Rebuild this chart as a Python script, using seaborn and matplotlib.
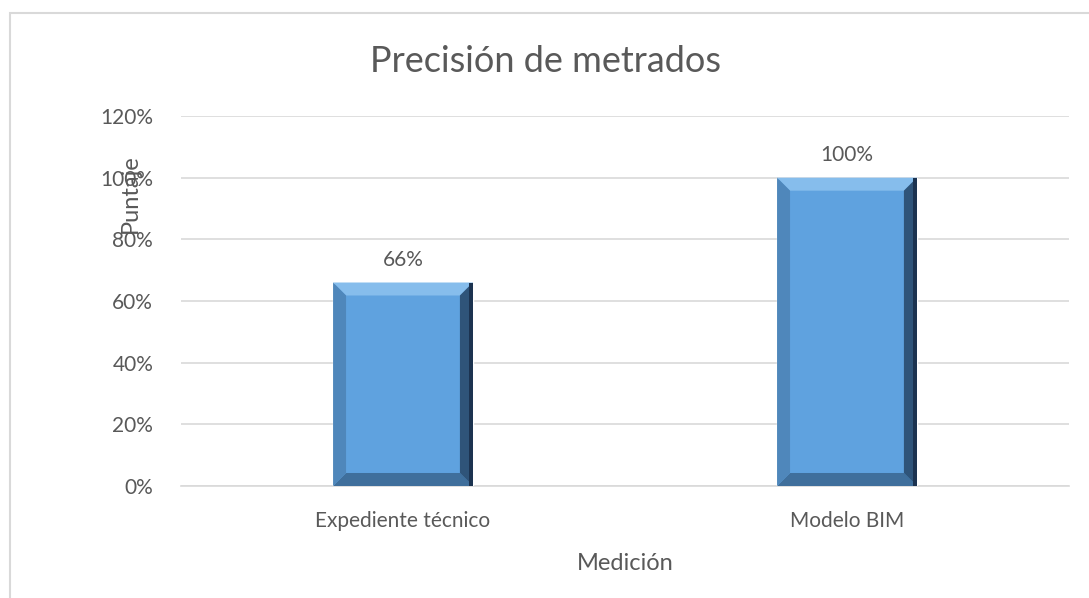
import matplotlib
matplotlib.use("Agg")
import matplotlib.pyplot as plt
import matplotlib.patches as mpatches
from matplotlib.ticker import PercentFormatter
import pandas as pd
import seaborn as sns

# data
categorias = ["Expediente técnico", "Modelo BIM"]
puntaje = [0.66, 1.00]
etiquetas = ["66%", "100%"]

df = pd.DataFrame({"Medición": categorias, "Puntaje": puntaje})

sns.set_style("white")
plt.rcParams['font.family'] = ['Lato', 'DejaVu Sans']
txt = "#595959"

fig = plt.figure(figsize=(10.89, 5.98), dpi=100)
ax = fig.add_axes([0.1662, 0.1873, 0.8154, 0.6187])

# chart frame (Excel-like border, cut off at right/bottom)
fig.patches.append(mpatches.Rectangle((10 / 1089, -0.1), 1.2, 1 - 13 / 598 + 0.1,
                                      transform=fig.transFigure, fill=False,
                                      edgecolor="#d9d9d9", lw=1.5))

sns.barplot(data=df, x="Medición", y="Puntaje", color="#5fa2df", width=0.315,
            saturation=1, ax=ax, zorder=3)

ax.set_ylim(0, 1.2)
ax.set_yticks([0, 0.2, 0.4, 0.6, 0.8, 1.0, 1.2])
ax.yaxis.set_major_formatter(PercentFormatter(1.0, decimals=0))
ax.grid(axis="y", color="#d9d9d9", lw=1.2, zorder=0)
for s in ["top", "right", "left"]:
    ax.spines[s].set_visible(False)
ax.spines["bottom"].set_color("#d9d9d9")
ax.spines["bottom"].set_linewidth(1.2)
ax.tick_params(axis="both", length=0, labelsize=15, colors=txt)
ax.tick_params(axis="y", pad=20)
ax.tick_params(axis="x", pad=18)

# bevel effect on each bar
fig.canvas.draw()
inv = ax.transData.inverted()
for p in ax.patches:
    x0, y0 = p.get_x(), p.get_y()
    x1, y1 = x0 + p.get_width(), y0 + p.get_height()
    (dx0, dy0) = ax.transData.transform((x0, y0))
    (dx1, dy1) = ax.transData.transform((x1, y1))
    b = 13
    corners = {
        "top": [(dx0, dy1), (dx1, dy1), (dx1 - b, dy1 - b), (dx0 + b, dy1 - b)],
        "bottom": [(dx0, dy0), (dx1, dy0), (dx1 - b, dy0 + b), (dx0 + b, dy0 + b)],
        "left": [(dx0, dy0), (dx0 + b, dy0 + b), (dx0 + b, dy1 - b), (dx0, dy1)],
        "right": [(dx1, dy0), (dx1 - b, dy0 + b), (dx1 - b, dy1 - b), (dx1, dy1)],
    }
    cols = {"top": "#86bdec", "bottom": "#3f6f9c", "left": "#4f87bb", "right": "#2f5479"}
    for k in ["top", "bottom", "left", "right"]:
        pts = inv.transform(corners[k])
        ax.add_patch(mpatches.Polygon(pts, closed=True, facecolor=cols[k],
                                      edgecolor="none", zorder=4))
    # dark outer edge on right side
    pts = inv.transform([(dx1 - 4, dy0), (dx1, dy0), (dx1, dy1), (dx1 - 4, dy1)])
    ax.add_patch(mpatches.Polygon(pts, closed=True, facecolor="#1c3350",
                                  edgecolor="none", zorder=5))

for p, lab in zip(ax.patches[:2], etiquetas):
    ax.annotate(lab, (p.get_x() + p.get_width() / 2, p.get_height()),
                xytext=(0, 9), textcoords="offset points", ha="center", va="bottom",
                fontsize=15, color=txt)

ax.set_xlabel("Medición", fontsize=17, color=txt, labelpad=16)
ax.set_ylabel("Puntaje", fontsize=17, color=txt)
ax.yaxis.set_label_coords(-0.045, 0.79)
fig.text(545 / 1089, 1 - 62 / 598, "Precisión de metrados", ha="center", va="center",
         fontsize=26, color=txt)

fig.savefig("out.png", dpi=100)
